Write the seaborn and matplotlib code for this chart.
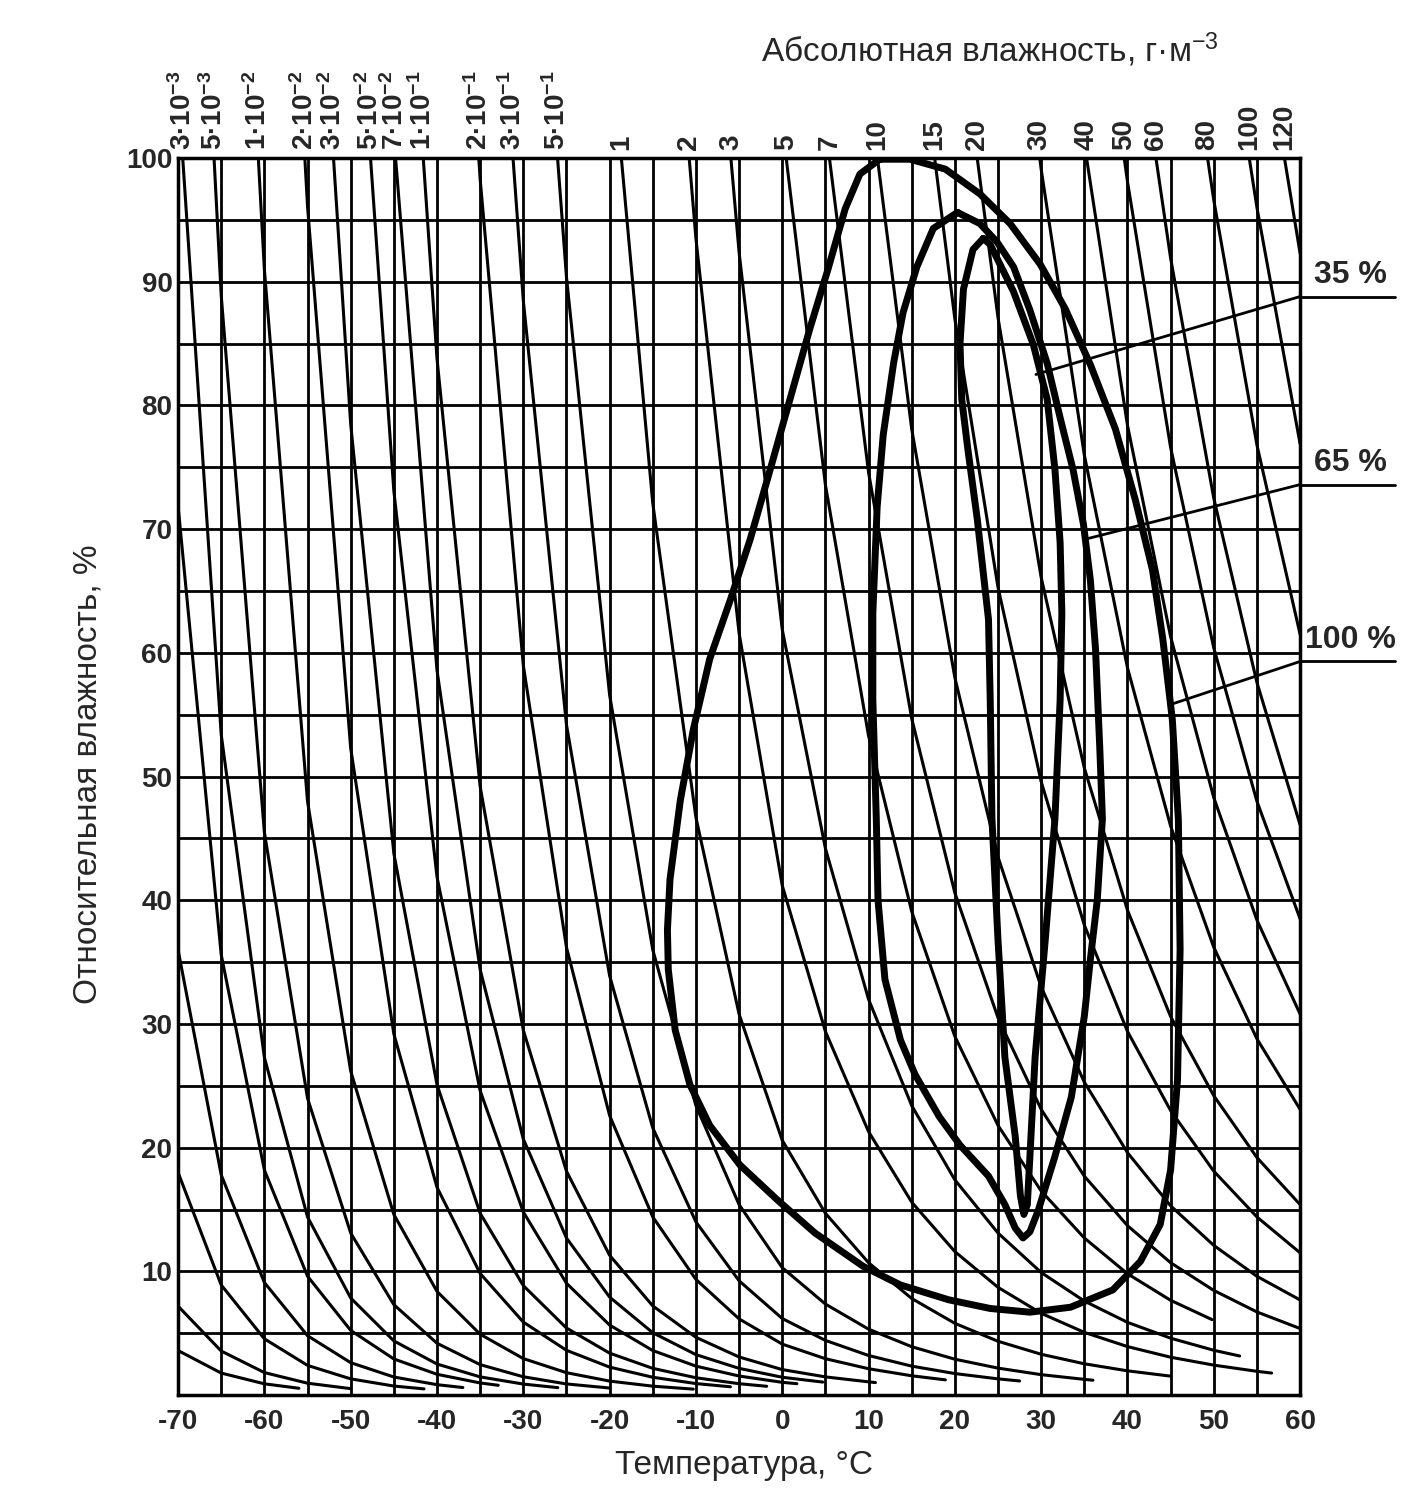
import matplotlib
matplotlib.use('Agg')
import pandas as pd
import matplotlib.pyplot as plt
import seaborn as sns

# isolines of absolute humidity (g/m3): RH read on the 5-degree grid
iso_names = ['1e-4', '2e-4', '5e-4', '1e-3', '2e-3', '3e-3', '5e-3', '1e-2', '2e-2', '3e-2',
             '5e-2', '7e-2', '1e-1', '2e-1', '3e-1', '5e-1', '1', '2', '3', '5',
             '7', '10', '15', '20', '30', '40', '50', '60', '80', '100', '120']
iso_top = [None, None, None, None, None, -69.46, -65.83, -60.70, -55.31, -51.99,
           -47.70, -44.80, -41.59, -35.16, -31.19, -26.03, -18.64, -10.78, -5.95, 0.46,
           5.47, 11.03, 17.66, 22.59, 29.84, 35.26, 39.62, 43.30, 49.28, 54.11, 58.19]
iso_start = [-70, -70, -70, -70, -70, -65, -65, -60, -55, -50,
             -45, -40, -40, -35, -30, -25, -15, -10, -5, 5,
             10, 15, 20, 25, 30, 40, 40, 45, 50, 55, 60]
iso_rh = [
    [3.60, 1.78, 0.91],
    [7.19, 3.56, 1.82, 0.96, 0.52],
    [18.0, 8.90, 4.55, 2.40, 1.31, 0.73],
    [36.0, 17.8, 9.10, 4.80, 2.62, 1.46, 0.84],
    [71.9, 35.6, 18.2, 9.61, 5.23, 2.92, 1.68, 0.98],
    [53.4, 27.3, 14.4, 7.85, 4.38, 2.51, 1.47, 0.89],
    [88.9, 45.5, 24.0, 13.1, 7.31, 4.19, 2.46, 1.48, 0.90, 0.57],
    [91.0, 48.0, 26.2, 14.6, 8.38, 4.92, 2.95, 1.81, 1.13, 0.72],
    [96.1, 52.3, 29.2, 16.8, 9.83, 5.90, 3.62, 2.26, 1.44, 0.93],
    [78.5, 43.8, 25.1, 14.7, 8.85, 5.42, 3.39, 2.16, 1.40, 0.92],
    [73.1, 41.9, 24.6, 14.8, 9.04, 5.66, 3.60, 2.34, 1.54, 1.03],
    [58.6, 34.4, 20.7, 12.7, 7.92, 5.04, 3.27, 2.16, 1.44],
    [83.8, 49.2, 29.5, 18.1, 11.3, 7.21, 4.67, 3.08, 2.06, 1.47, 1.07],
    [98.3, 59.0, 36.2, 22.6, 14.4, 9.35, 6.16, 4.12, 2.94, 2.13, 1.56],
    [88.5, 54.2, 33.9, 21.6, 14.0, 9.24, 6.19, 4.42, 3.20, 2.34, 1.74, 1.31],
    [90.4, 56.6, 36.0, 23.4, 15.4, 10.3, 7.36, 5.33, 3.91, 2.90, 2.18, 1.65, 1.27],
    [72.1, 46.7, 30.8, 20.6, 14.7, 10.7, 7.81, 5.80, 4.35, 3.30, 2.53, 1.96, 1.53],
    [93.5, 61.6, 41.2, 29.4, 21.3, 15.6, 11.6, 8.71, 6.61, 5.07, 3.92, 3.06, 2.42, 1.92],
    [92.4, 61.9, 44.2, 32.0, 23.4, 17.4, 13.1, 9.91, 7.60, 5.88, 4.60, 3.62],
    [73.6, 53.3, 39.1, 29.0, 21.8, 16.5, 12.7, 9.81, 7.66],
    [74.6, 54.7, 40.6, 30.5, 23.1, 17.7, 13.7, 10.7, 8.46, 6.72, 5.38],
    [78.1, 58.0, 43.5, 33.0, 25.3, 19.6, 15.3, 12.1, 9.60, 7.69],
    [87.0, 65.3, 49.6, 38.0, 29.4, 23.0, 18.1, 14.4, 11.5],
    [87.1, 66.1, 50.7, 39.2, 30.6, 24.2, 19.2, 15.4],
    [99.1, 76.0, 58.8, 46.0, 36.2, 28.8, 23.1],
    [78.4, 61.3, 48.3, 38.4, 30.8],
    [98.1, 76.6, 60.4, 48.0, 38.5],
    [91.9, 72.5, 57.6, 46.1],
    [96.6, 76.8, 61.5],
    [96.0, 76.9],
    [92.3],
]
iso_end = [(-56, 0.55), None, (-41.5, 0.50), (-37, 0.61), (-32.9, 0.79), (-26, 0.60), None,
           (-10.3, 0.48), (-6, 0.67), (-1.8, 0.71), (1.7, 0.92), (4.7, 1.05), (10.8, 1.01),
           (18.9, 1.23), (27.5, 1.14), (36, 1.20), None, (56.7, 1.78), (53, 3.16), (49.8, 6.1),
           None, None, None, None, None, None, None, None, None, None, None]
iso_labels = [None, None, None, None, None,
              '3·10$^{-3}$', '5·10$^{-3}$', '1·10$^{-2}$', '2·10$^{-2}$', '3·10$^{-2}$',
              '5·10$^{-2}$', '7·10$^{-2}$', '1·10$^{-1}$', '2·10$^{-1}$', '3·10$^{-1}$',
              '5·10$^{-1}$', '1', '2', '3', '5', '7', '10', '15', '20', '30', '40', '50',
              '60', '80', '100', '120']

# climatogram envelopes
outer_t = [11.3, 14.8, 18.9, 22.9, 26.4, 29.9, 32.8, 35.7, 38.6, 40.9,
           42.9, 44.1, 45.2, 45.9, 46.1, 45.8, 45.0, 43.8, 41.5, 38.3,
           33.4, 28.7, 24.1, 19.3, 13.7, 9.4, 3.8, -0.6, -4.9, -8.4,
           -10.7, -12.4, -13.2, -13.3, -13.0, -11.8, -10.3, -8.4, -6.0, -3.7,
           -1.4, 0.9, 3.2, 5.3, 7.3, 9.0]
outer_rh = [99.9, 99.9, 99.1, 97.1, 94.7, 91.4, 87.8, 83.3, 78.1, 72.4,
            66.7, 61.1, 54.6, 46.5, 36.0, 25.5, 18.2, 13.8, 10.8, 8.5,
            7.1, 6.7, 7.0, 7.7, 8.9, 10.4, 13.1, 15.8, 18.6, 21.8,
            25.1, 29.5, 34.4, 37.6, 41.7, 48.1, 53.8, 59.5, 64.3, 69.2,
            74.8, 80.5, 86.2, 91.0, 95.9, 98.7]
mid_t = [20.3, 22.9, 24.9, 26.8, 28.7, 30.7, 32.2, 33.7, 34.9, 35.7,
         36.3, 36.8, 37.1, 36.5, 35.7, 35.0, 33.5, 31.6, 29.7, 28.7,
         27.9, 27.0, 25.8, 23.9, 20.6, 18.2, 15.4, 13.7, 11.9, 11.1,
         10.9, 10.5, 10.5, 11.0, 11.7, 12.9, 14.0, 15.6, 17.5]
mid_rh = [95.6, 94.7, 93.2, 91.2, 87.7, 83.4, 79.0, 74.8, 70.4, 65.9,
          60.3, 52.2, 46.6, 40.0, 35.2, 30.6, 24.1, 19.3, 15.0, 13.2,
          12.7, 13.5, 15.4, 17.7, 20.2, 22.5, 25.9, 28.7, 33.6, 40.0,
          46.6, 56.2, 63.2, 71.8, 77.6, 83.4, 87.5, 91.2, 94.3]
inner_t = [23.3, 24.1, 26.8, 29.1, 30.7, 31.6, 32.2, 32.4, 32.2, 31.6,
           30.5, 29.3, 28.7, 28.4, 28.0, 27.6, 27.0, 25.8, 25.0, 24.3,
           24.1, 23.9, 22.6, 21.5, 20.8, 20.6, 21.0, 22.1]
inner_rh = [93.5, 93.0, 89.2, 84.9, 80.5, 74.8, 68.9, 63.2, 56.2, 46.6,
            37.0, 27.3, 19.3, 15.4, 14.6, 16.1, 20.9, 27.3, 36.8, 46.6,
            56.2, 62.7, 70.8, 76.5, 80.5, 85.0, 89.4, 92.6]

ann_labels = ['35 %', '65 %', '100 %']
ann_line_y = [88.8, 73.6, 59.3]
ann_target = [(29.4, 82.5), (35.2, 69.2), (44.9, 55.8)]

sns.set_theme(style='white')
plt.rcParams['font.family'] = ['Liberation Sans', 'DejaVu Sans']
plt.rcParams['mathtext.default'] = 'regular'
plt.rcParams['axes.unicode_minus'] = False

fig = plt.figure(figsize=(14.21, 15.09), dpi=100)
ax = fig.add_axes([0.1253, 0.0755, 0.7896, 0.8198])

# build isoline table
rows = []
for i, name in enumerate(iso_names):
    pts = []
    if iso_top[i] is not None:
        pts.append((iso_top[i], 100.0))
    for j, rh in enumerate(iso_rh[i]):
        pts.append((iso_start[i] + 5 * j, rh))
    if iso_end[i] is not None:
        pts.append(iso_end[i])
    for k, (t, rh) in enumerate(pts):
        rows.append({'curve': name, 'order': k, 't': t, 'rh': rh})
iso_df = pd.DataFrame(rows)

sns.lineplot(data=iso_df, x='t', y='rh', units='curve', estimator=None, sort=False,
             color='black', lw=2.2, ax=ax, legend=False)

for lt, lr in [(outer_t, outer_rh), (mid_t, mid_rh), (inner_t, inner_rh)]:
    sns.lineplot(x=lt + lt[:1], y=lr + lr[:1], sort=False, estimator=None,
                 color='black', lw=5.0, ax=ax, solid_joinstyle='round',
                 solid_capstyle='round')

# labels on the right with leader lines
for lab, ly, (tx, ty) in zip(ann_labels, ann_line_y, ann_target):
    ax.plot([60, 71.0], [ly, ly], color='black', lw=2.0, clip_on=False)
    ax.plot([60, tx], [ly, ty], color='black', lw=2.0, clip_on=False)
    ax.text(65.8, ly + 0.5, lab, ha='center', va='bottom', fontsize=23,
            fontweight='bold', clip_on=False)

ax.set_xlim(-70, 60)
ax.set_ylim(0, 100)
ax.set_xticks(range(-70, 61, 10))
ax.set_xticks(range(-65, 60, 10), minor=True)
ax.set_yticks(range(10, 101, 10))
ax.set_yticks(range(5, 100, 10), minor=True)
ax.grid(True, which='both', color='black', lw=2.0)
ax.tick_params(which='both', length=0)
ax.tick_params(axis='x', pad=10, labelsize=20)
ax.tick_params(axis='y', pad=4, labelsize=20)
for lbl in ax.get_xticklabels() + ax.get_yticklabels():
    lbl.set_fontweight('bold')
ax.set_xlabel('')
ax.set_ylabel('')
for sp in ax.spines.values():
    sp.set_color('black')
    sp.set_linewidth(2.5)

# top axis with absolute humidity values
top_pos = [t for t, l in zip(iso_top, iso_labels) if l is not None]
top_lab = [l for l in iso_labels if l is not None]
ax_top = ax.twiny()
ax_top.set_xlim(-70, 60)
ax_top.grid(False)
ax_top.set_xticks(top_pos)
ax_top.set_xticklabels(top_lab, rotation=90, fontsize=20, fontweight='bold')
ax_top.tick_params(length=0, pad=6)
for sp in ax_top.spines.values():
    sp.set_visible(False)

fig.text(0.5236, 0.029, 'Температура, °C', ha='center', va='center', fontsize=24)
fig.text(0.062, 0.487, 'Относительная влажность, %', ha='center', va='center',
         rotation=90, fontsize=24)
fig.text(0.6967, 0.967, 'Абсолютная влажность, г·м$^{-3}$', ha='center', va='center',
         fontsize=24)

fig.savefig('out.png', dpi=100)
